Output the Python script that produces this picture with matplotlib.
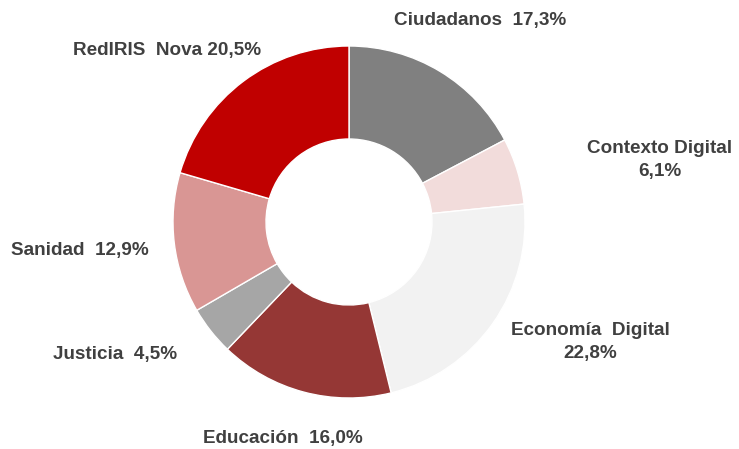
import matplotlib
matplotlib.use("Agg")
import matplotlib.pyplot as plt

categories = ["Ciudadanos", "Contexto Digital", "Economía Digital", "Educación",
              "Justicia", "Sanidad", "RedIRIS Nova"]
values = [17.3, 6.1, 22.8, 16.0, 4.5, 12.9, 20.5]
labels = ["Ciudadanos  17,3%", "Contexto Digital\n6,1%", "Economía  Digital\n22,8%",
          "Educación  16,0%", "Justicia  4,5%", "Sanidad  12,9%", "RedIRIS  Nova 20,5%"]
colors = ["#808080", "#F2DCDB", "#F2F2F2", "#953735", "#A6A6A6", "#D99694", "#C00000"]

W, H = 739, 449
fig = plt.figure(figsize=(W / 100, H / 100), dpi=100)
ax = fig.add_axes([0, 0, 1, 1])

cx, cy, R, r = 349, H - 222, 176, 83
ax.pie(values, colors=colors, startangle=90, counterclock=False,
       center=(cx, cy), radius=R, frame=True,
       wedgeprops=dict(width=R - r, edgecolor="white", linewidth=1))
ax.set_xlim(0, W)
ax.set_ylim(0, H)
ax.set_aspect("equal")
ax.axis("off")

label_pos = [(480, 20), (660, 160), (590, 342), (283, 438), (115, 355), (80, 251), (167, 51)]
for lab, (x, y) in zip(labels, label_pos):
    ax.text(x, H - y, lab, ha="center", va="center", fontsize=13.6, fontweight="bold",
            color="#404040", family="Liberation Sans", linespacing=1.4)

fig.savefig("out.png", dpi=100)
